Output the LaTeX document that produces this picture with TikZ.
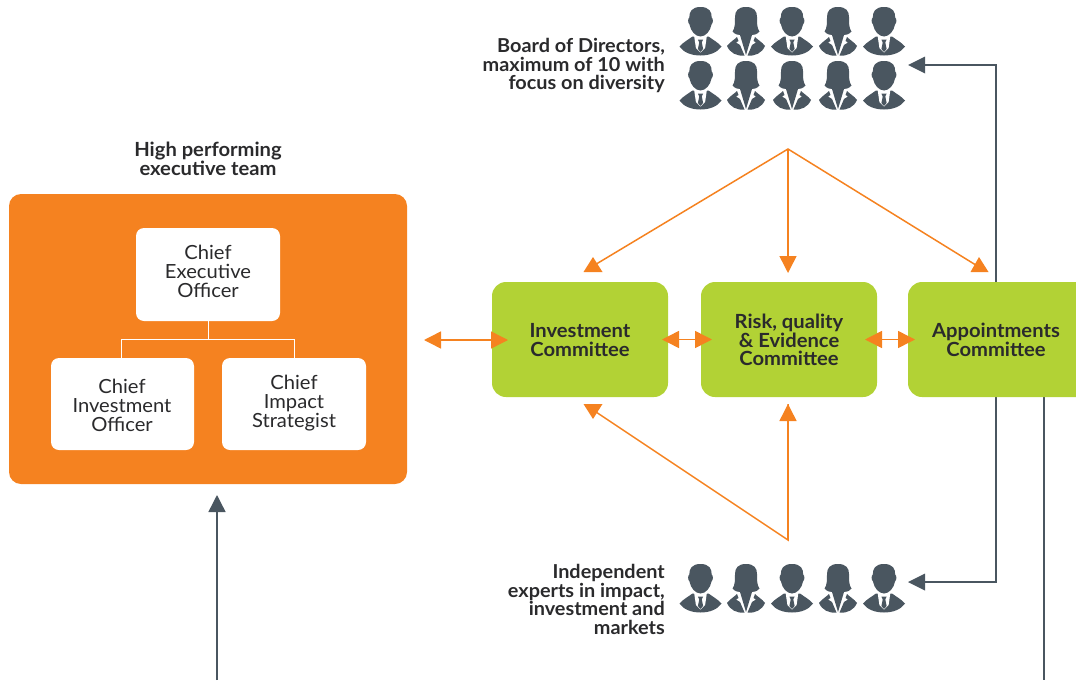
\documentclass[tikz,border=0pt]{standalone}
\usepackage{fontspec}
\setmainfont{Lato}[FakeStretch=1.035]
\usetikzlibrary{arrows.meta}
\definecolor{orng}{HTML}{F58220}
\definecolor{grn}{HTML}{B2D235}
\definecolor{slate}{HTML}{4A5660}
\definecolor{ink}{HTML}{2A2A2C}
\tikzset{
  x=1pt,y=-1pt,
  panel/.style={fill=orng,rounded corners=12pt},
  whitebox/.style={fill=white,rounded corners=8pt},
  greenbox/.style={fill=grn,rounded corners=14pt},
  role/.style={text=ink,align=center,font=\fontsize{19.5}{18.8}\selectfont},
  strong/.style={text=ink,align=center,font=\fontsize{19.5}{18.8}\selectfont\bfseries},
  strongr/.style={text=ink,align=right,inner sep=0pt,font=\fontsize{19.2}{18.8}\selectfont\bfseries},
  orgline/.style={draw=white,line width=1pt},
  oline/.style={draw=orng,line width=1.5pt},
  slateline/.style={draw=slate,line width=1.4pt},
  obiarrow/.style={oline,{Triangle[length=17pt,width=17pt]}-{Triangle[length=17pt,width=17pt]}},
  oarrow/.style={oline,-{Triangle[length=17pt,width=17pt]}},
  sarrow/.style={slateline,-{Triangle[length=17pt,width=17pt]}},
  otri/.style={fill=orng},
  man/.pic={
    \fill[slate] (-21,39.5) .. controls (-17,35) and (-12,32.5) .. (-8,29.5) -- (8,29.5) .. controls (12,32.5) and (17,35) .. (21,39.5) .. controls (17,45.5) and (9,48.5) .. (0,48.5) .. controls (-9,48.5) and (-17,45.5) .. (-21,39.5) -- cycle;
    \fill[white] (-6.5,28) -- (6.5,28) -- (4.6,41) -- (0,45.5) -- (-4.6,41) -- cycle;
    \fill[slate] (0,0) .. controls (-9,0) and (-11.2,5) .. (-11.2,10.5) .. controls (-12.8,11.5) and (-12.8,16) .. (-11,17.5) .. controls (-10,24) and (-5,29.5) .. (0,29.5) .. controls (5,29.5) and (10,24) .. (11,17.5) .. controls (12.8,16) and (12.8,11.5) .. (11.2,10.5) .. controls (11.2,5) and (9,0) .. (0,0) -- cycle;
    \fill[slate] (-2.6,32.5) -- (2.6,32.5) -- (1.3,35.5) -- (2.6,42) -- (0,45) -- (-2.6,42) -- (-1.3,35.5) -- cycle;
  },
  woman/.pic={
    \fill[slate] (0,0) .. controls (-8,0) and (-11,4) .. (-11,10) .. controls (-11,17) and (-11,21) .. (-13.5,24.5) .. controls (-11,27.5) and (-8,28) .. (-6,28) -- (0,48) -- (6,28) .. controls (8,28) and (11,27.5) .. (13.5,24.5) .. controls (11,21) and (11,17) .. (11,10) .. controls (11,4) and (8,0) .. (0,0) -- cycle;
    \fill[slate] (-9,30) -- (-7.5,34) -- (-10,35.5) -- (-6,38) -- (-1.5,48.5) .. controls (-9,49.5) and (-16,46) .. (-19,39) .. controls (-16,35) and (-12,33) .. (-9,30) -- cycle;
    \fill[slate] (9,30) -- (7.5,34) -- (10,35.5) -- (6,38) -- (1.5,48.5) .. controls (9,49.5) and (16,46) .. (19,39) .. controls (16,35) and (12,33) .. (9,30) -- cycle;
  },
}
\begin{document}
\begin{tikzpicture}
\useasboundingbox (0,0) rectangle (1076,680);
% anchors
\coordinate (apexT) at (788,149);
\coordinate (apexB) at (788,540);
\coordinate (invTop) at (593,266);
\coordinate (appTop) at (979,267);
\coordinate (riskTop) at (788,273);
\coordinate (invBot) at (593,410);
\coordinate (riskBot) at (788,404);
\coordinate (teamL) at (424,340);
\coordinate (teamR) at (508,340);
\coordinate (irL) at (662,339.5);
\coordinate (irR) at (712,339.5);
\coordinate (raL) at (865,339.5);
\coordinate (raR) at (915,339.5);
\coordinate (upS) at (996,282);
\coordinate (upC) at (996,65);
\coordinate (boardTip) at (908,65);
\coordinate (dnS) at (996,397);
\coordinate (dnC) at (996,582);
\coordinate (indTip) at (908,582);
\coordinate (outTop) at (1044,397);
\coordinate (outBot) at (1044,680);
\coordinate (teamIn) at (217,680);
\coordinate (teamTip) at (217,495);
% slate lines behind boxes
\draw[slateline] (upS) -- (upC) -- (925,65);
\draw[slateline] (dnS) -- (dnC) -- (925,582);
\draw[slateline] (outTop) -- (outBot);
\fill[slate] (boardTip) -- (925,56.5) -- (925,73.5) -- cycle;
\fill[slate] (indTip) -- (925,573.5) -- (925,590.5) -- cycle;
\draw[sarrow] (teamIn) -- (teamTip);
% left panel
\fill[panel] (9,194) rectangle (407,484);
\node[whitebox,minimum width=144pt,minimum height=93pt,inner sep=0pt] (ceo) at (208,274.5) {};
\node[whitebox,minimum width=143pt,minimum height=92pt,inner sep=0pt] (cio) at (122.5,404) {};
\node[whitebox,minimum width=144pt,minimum height=92pt,inner sep=0pt] (cis) at (294,404) {};
\coordinate (mid) at (208,339.5);
\draw[orgline] (ceo.south) -- (mid);
\draw[orgline] (121,358) -- (121,339.5) -- (294,339.5) -- (294,358);
\node[role] at (208,271.3) {Chief\\Executive\\Officer};
\node[role] at (122,405.3) {Chief\\Investment\\Officer};
\node[role] at (294,403) {Chief\\Impact\\Strategist};
\node[strong] (title) at (208,159) {High performing\\executive team};
% green boxes
\fill[greenbox] (492,282) rectangle (668,397);
\fill[greenbox] (701,282) rectangle (877,397);
\fill[greenbox] (908,282) rectangle (1090,397);
\node[strong] (inv) at (580,340) {Investment\\Committee};
\node[strong] (risk) at (789,340) {Risk, quality\\\& Evidence\\Committee};
\node[strong] (app) at (996,339.5) {Appointments\\Committee};
% orange connectors
\draw[obiarrow] (teamL) -- (teamR);
\draw[obiarrow] (irL) -- (irR);
\draw[obiarrow] (raL) -- (raR);
\draw[oline] (invTop) -- (apexT) -- (appTop);
\draw[oarrow] (apexT) -- (riskTop);
\fill[otri] (593,257) -- (602.5,272) -- (583.5,272) -- cycle;
\fill[otri] (979,257) -- (988.5,272) -- (970.5,272) -- cycle;
\draw[oline] (invBot) -- (apexB) -- (riskBot);
\draw[oarrow] (apexB) -- (riskBot);
\fill[otri] (593,419) -- (602.5,404) -- (583.5,404) -- cycle;
% people
\foreach \px/\py/\kind in {700.5/7/man,746/7/woman,792/7/man,838/7/woman,884/7/man,
  700.5/61/man,746/61/woman,792/61/woman,838/61/woman,884/61/man,
  700.5/564/man,746/564/woman,792/564/man,838/564/woman,884/564/man}
  \path (\px,\py) pic {\kind};
\node[strongr,anchor=east] (board) at (665,65.5) {Board of Directors,\\maximum of 10 with\\focus on diversity};
\node[strongr,anchor=east] (ind) at (665,599.5) {Independent\\experts in impact,\\investment and\\markets};
\end{tikzpicture}
\end{document}
